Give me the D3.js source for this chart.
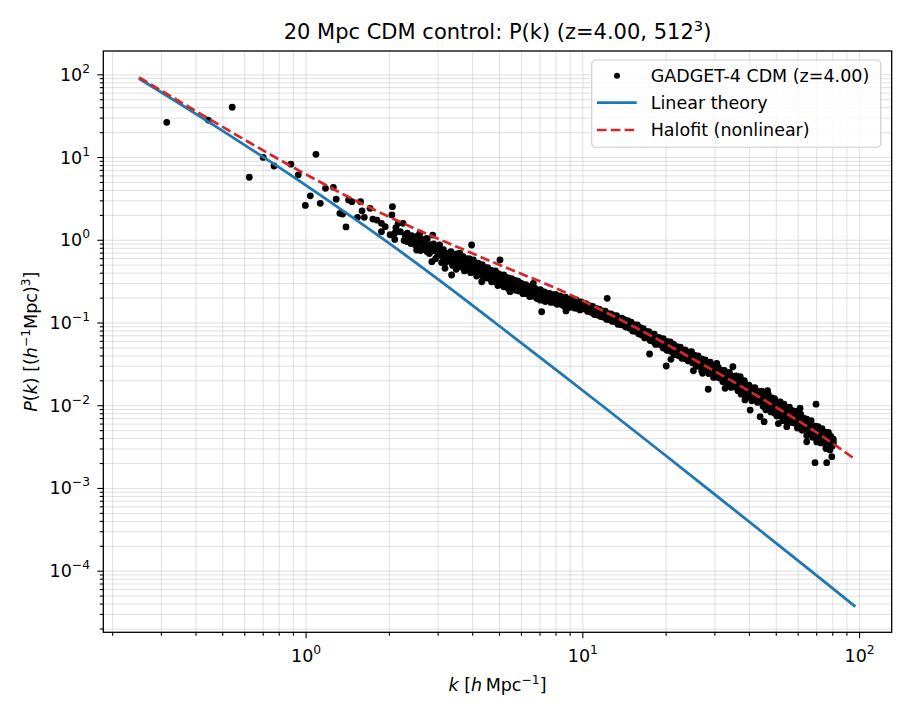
<!DOCTYPE html>
<html>
<head>
<meta charset="utf-8">
<script src="https://cdn.jsdelivr.net/npm/d3@7"></script>
<style>
body { margin: 0; background: #fff; }
text { font-family: "DejaVu Sans", sans-serif; fill: #000; }
</style>
</head>
<body>
<script>
// linear theory P(k)
var kLin = [0.25, 0.35, 0.5, 0.7, 1.0, 1.5, 2.2, 3.5, 5, 8, 12, 20, 30, 50, 70, 97];
var pLin = [89, 44.4, 20.9, 10.1, 4.58, 1.80, 0.723, 0.228, 0.0914, 0.0272, 0.00946, 0.00247, 8.43e-4, 2.17e-4, 8.83e-5, 3.67e-5];

// halofit P(k)
var kHalo = [0.25, 0.35, 0.5, 0.7, 1.0, 1.5, 2.2, 3.5, 5.0, 8.3, 12, 17, 24, 33.3, 50, 70, 97.5];
var pHalo = [92, 47.1, 23.3, 12.1, 6.22, 3.03, 1.64, 0.83, 0.50, 0.247, 0.136, 0.0743, 0.0394, 0.0213, 0.0095, 0.00472, 0.00218];

// GADGET-4 measured spectrum [k, P], low k (individual points)
var gadgetLowK = [
  [0.315, 26.3], [0.445, 28], [0.543, 40], [0.626, 5.7], [0.703, 9.9], [0.769, 7.8], [0.885, 8.2], [0.941, 6.1],
  [0.998, 2.6], [1.04, 3.4], [1.09, 10.8], [1.13, 2.76], [1.18, 4.19], [1.26, 4.3], [1.29, 3.1], [1.33, 2.09],
  [1.36, 2.05], [1.40, 1.43], [1.43, 3.03], [1.47, 2.89], [1.58, 2.89], [1.60, 2.24], [1.54, 1.87], [1.63, 1.87],
  [1.71, 2.40], [1.75, 1.78], [1.81, 1.73], [1.88, 1.58], [1.94, 1.44], [1.88, 1.25], [2.06, 2.51], [2.05, 2.0],
  [2.10, 1.20], [2.10, 1.01], [2.16, 1.58], [2.02, 1.15], [2.12, 1.4], [2.2, 1.25], [2.27, 0.98], [2.33, 1.2],
  [2.4, 0.9], [2.42, 1.12], [2.25, 1.58], [2.29, 1.14], [2.32, 0.95], [2.38, 1.09], [2.45, 0.99], [2.52, 0.75],
  [2.59, 1.20], [2.66, 0.95], [2.74, 0.72], [2.74, 1.04], [2.86, 0.543], [2.88, 1.14], [2.98, 0.82], [3.06, 0.685],
  [3.19, 0.452], [3.24, 0.655], [3.37, 0.375], [3.42, 0.60], [3.61, 0.685], [3.82, 0.52], [3.98, 0.865], [4.04, 0.57],
  [4.27, 0.472], [4.33, 0.311], [4.51, 0.43], [4.77, 0.393], [5.04, 0.57], [5.18, 0.357], [5.48, 0.236], [5.63, 0.327],
  [6.12, 0.271], [6.65, 0.298], [7.13, 0.135], [7.43, 0.205], [8.08, 0.171], [8.73, 0.138], [9.27, 0.155]
];

// GADGET-4 dense band, k = 2.5 .. 10
var gadgetMidK = [
  [2.5,1.06],[2.5,0.85],[2.55,0.89],[2.55,1.12],[2.6,0.74],[2.6,0.95],[2.65,1.01],[2.65,0.81],[2.7,0.77],[2.7,0.92],
  [2.75,1.01],[2.75,0.80],[2.8,0.68],[2.8,0.84],[2.85,0.87],[2.85,0.73],[2.9,0.74],[2.9,0.89],[2.95,0.59],[2.95,0.78],
  [3.0,0.79],[3.0,0.64],[3.05,0.66],[3.05,0.87],[3.1,0.71],[3.1,0.53],[3.15,0.59],[3.15,0.76],[3.2,0.64],[3.2,0.53],
  [3.3,0.69],[3.3,0.55],[3.35,0.57],[3.35,0.72],[3.4,0.49],[3.4,0.62],[3.45,0.67],[3.45,0.54],[3.5,0.57],[3.5,0.44],
  [3.55,0.68],[3.55,0.50],[3.6,0.47],[3.6,0.59],[3.65,0.60],[3.65,0.51],[3.7,0.47],[3.7,0.63],[3.75,0.54],[3.75,0.42],
  [3.8,0.59],[3.8,0.48],[3.85,0.44],[3.85,0.54],[3.9,0.59],[3.9,0.48],[3.95,0.40],[3.95,0.53],[4.0,0.48],[4.0,0.55],
  [4.05,0.41],[4.05,0.50],[4.1,0.52],[4.1,0.43],[4.15,0.365],[4.15,0.465],[4.2,0.52],[4.2,0.40],[4.25,0.43],[4.25,0.49],
  [4.3,0.47],[4.3,0.38],[4.35,0.41],[4.35,0.50],[4.4,0.44],[4.4,0.35],[4.45,0.38],[4.45,0.46],[4.5,0.41],[4.5,0.345],
  [4.55,0.46],[4.55,0.37],[4.6,0.345],[4.6,0.41],[4.65,0.43],[4.65,0.37],[4.7,0.31],[4.7,0.38],[4.75,0.42],[4.75,0.34],
  [4.8,0.36],[4.8,0.40],[4.85,0.31],[4.85,0.42],[4.9,0.375],[4.9,0.33],[4.95,0.28],[4.95,0.39],[5.0,0.346],[5.0,0.31],
  [5.05,0.38],[5.05,0.32],[5.1,0.29],[5.1,0.35],[5.15,0.36],[5.15,0.31],[5.2,0.27],[5.2,0.375],[5.25,0.33],[5.25,0.29],
  [5.3,0.35],[5.3,0.30],[5.35,0.265],[5.35,0.33],[5.4,0.345],[5.4,0.285],[5.45,0.30],[5.45,0.25],[5.5,0.32],[5.5,0.27],
  [5.55,0.28],[5.55,0.34],[5.6,0.30],[5.6,0.255],
  [5.65,0.32],[5.65,0.265],[5.7,0.285],[5.75,0.245],[5.75,0.32],[5.8,0.29],[5.85,0.257],[5.85,0.317],[5.9,0.24],[5.95,0.29],
  [5.95,0.26],[6.0,0.30],[6.05,0.24],[6.05,0.27],[6.1,0.223],[6.15,0.285],[6.15,0.246],[6.2,0.267],[6.25,0.224],[6.25,0.287],
  [6.3,0.244],[6.35,0.269],[6.35,0.224],[6.4,0.247],[6.45,0.206],[6.45,0.274],[6.5,0.254],[6.55,0.223],[6.55,0.209],[6.6,0.262],
  [6.65,0.227],[6.65,0.243],[6.7,0.207],[6.75,0.259],[6.75,0.219],[6.8,0.234],[6.85,0.195],[6.85,0.245],[6.9,0.214],[6.95,0.245],
  [6.95,0.20],[7.0,0.221],[7.05,0.186],[7.05,0.25],[7.1,0.226],[7.15,0.198],[7.15,0.209],[7.2,0.232],[7.25,0.186],[7.25,0.215],
  [7.3,0.234],[7.35,0.196],[7.35,0.179],[7.4,0.216],
  [7.5,0.22],[7.5,0.187],[7.6,0.195],[7.6,0.225],[7.7,0.175],[7.7,0.205],[7.8,0.217],[7.8,0.187],[7.9,0.1755],[7.9,0.205],
  [8.0,0.218],[8.0,0.189],[8.1,0.166],[8.1,0.199],[8.2,0.204],[8.2,0.176],[8.3,0.18],[8.3,0.209],[8.4,0.165],[8.4,0.189],
  [8.5,0.201],[8.5,0.174],[8.6,0.157],[8.6,0.191],[8.7,0.202],[8.7,0.176],[8.8,0.16],[8.8,0.185],[8.9,0.19],[8.9,0.165],
  [9.0,0.152],[9.0,0.177],[9.1,0.192],[9.1,0.166],[9.2,0.157],[9.2,0.181],[9.3,0.182],[9.3,0.158],[9.4,0.149],[9.4,0.169],
  [9.5,0.187],[9.5,0.162],[9.6,0.149],[9.6,0.174],[9.7,0.177],[9.7,0.154],[9.8,0.142],[9.8,0.166],[9.9,0.178],[9.9,0.156],
  [10.0,0.147],[10.0,0.168]
];

// GADGET-4 dense band, k = 10 .. 33
var gadgetHighK = [
  [10.15,0.166],[10.15,0.146],[10.3,0.149],[10.3,0.169],[10.45,0.136],[10.45,0.156],[10.6,0.16],[10.6,0.141],[10.75,0.133],[10.75,0.148],
  [10.9,0.157],[10.9,0.137],[11.05,0.125],[11.05,0.146],[11.2,0.148],[11.2,0.13],[11.35,0.123],[11.35,0.135],[11.5,0.145],[11.5,0.126],
  [11.65,0.118],[11.65,0.136],[11.8,0.138],[11.8,0.124],[11.95,0.116],[11.95,0.129],[12.1,0.137],[12.1,0.118],[12.25,0.109],[12.25,0.126],
  [12.4,0.128],[12.4,0.116],[12.55,0.108],[12.55,0.12],[12.7,0.127],[12.7,0.111],[12.85,0.103],[12.85,0.12],[13.0,0.121],[13.0,0.11],
  [13.15,0.103],[13.15,0.114],[13.3,0.121],[13.3,0.104],[13.45,0.095],[13.45,0.111],[13.6,0.113],[13.6,0.102],[13.75,0.0945],[13.75,0.106],
  [13.9,0.113],[13.9,0.097],[14.05,0.093],[14.05,0.106],[14.2,0.108],[14.2,0.0966],[14.35,0.0883],[14.35,0.101],
  [14.6,0.105],[14.6,0.09],[14.8,0.0855],[14.8,0.098],[15.0,0.101],[15.0,0.0875],[15.2,0.079],[15.2,0.092],[15.4,0.094],[15.4,0.0843],
  [15.6,0.078],[15.6,0.089],[15.8,0.0937],[15.8,0.0812],[16.0,0.0728],[16.0,0.0826],[16.2,0.0864],[16.2,0.0752],[16.4,0.0704],[16.4,0.0821],
  [16.6,0.0842],[16.6,0.0734],[16.8,0.0651],[16.8,0.0763],[17.0,0.0783],[17.0,0.0681],[17.2,0.0652],[17.2,0.0745],[17.4,0.0778],[17.4,0.068],
  [17.6,0.0605],[17.6,0.0687],[17.8,0.0727],[17.8,0.0639],[18.0,0.0593],[18.0,0.0685],[18.2,0.0724],[18.2,0.062],[18.4,0.0544],[18.4,0.0646],
  [18.6,0.0664],[18.6,0.0584],[18.8,0.0548],[18.8,0.064],[19.0,0.0656],[19.0,0.0578],
  [19.3,0.0532],[19.3,0.0624],[19.6,0.064],[19.6,0.0492],[19.9,0.0534],[19.9,0.0573],[20.2,0.0461],[20.2,0.059],[20.5,0.0534],[20.5,0.0487],
  [20.8,0.0583],[20.8,0.045],[21.1,0.0474],[21.1,0.0529],[21.4,0.0409],[21.4,0.0545],[21.7,0.0476],[21.7,0.0428],[22.0,0.0512],[22.0,0.0442],
  [22.3,0.0396],[22.3,0.0473],[22.6,0.0503],[22.6,0.0414],[22.9,0.0426],[22.9,0.037],[23.2,0.046],[23.2,0.0392],[23.5,0.0367],[23.5,0.0467],
  [23.8,0.0416],[23.8,0.0388],[24.1,0.0344],[24.1,0.044],[24.4,0.0412],[24.4,0.0365],[24.7,0.0346],[24.7,0.0438],[25.0,0.0375],[25.0,0.0326],
  [25.4,0.0402],[25.4,0.0329],[25.8,0.0297],[25.8,0.0372],[26.2,0.0396],[26.2,0.0327],[26.6,0.0294],[26.6,0.0341],[27.0,0.0364],[27.0,0.026],
  [27.4,0.0307],[27.4,0.0341],[27.8,0.0265],[27.8,0.0354],[28.2,0.0312],[28.2,0.0276],[28.6,0.0242],[28.6,0.0321],[29.0,0.0331],[29.0,0.0271],
  [29.4,0.0247],[29.4,0.0286],[29.8,0.0298],[29.8,0.0217],[30.2,0.0251],[30.2,0.0296],[30.6,0.0219],[30.6,0.0268],[31.0,0.0286],[31.0,0.0231],
  [31.4,0.0213],[31.4,0.026],[31.8,0.0264],[31.8,0.023],[32.2,0.0192],[32.2,0.0241],[32.6,0.0263],[32.6,0.0213],[33.0,0.0197],[33.0,0.024]
];

// GADGET-4 dense band, k = 33 .. 81 (Nyquist end)
var gadgetTopK = [
  [33.5,0.0234],[33.5,0.0184],[34.0,0.02],[34.0,0.0249],[34.5,0.0164],[34.5,0.0213],[35.0,0.0224],[35.0,0.018],[35.5,0.0167],[35.5,0.0194],
  [36.0,0.0227],[36.0,0.0178],[36.5,0.015],[36.5,0.0196],[37.0,0.0196],[37.0,0.0173],[37.5,0.0136],[37.5,0.02],[38.0,0.0174],[38.0,0.0152],
  [38.5,0.014],[38.5,0.0198],[39.0,0.0176],[39.0,0.0152],[39.5,0.0125],[39.5,0.0159],[40.0,0.0175],[40.0,0.0134],[40.5,0.0137],[40.5,0.0158],
  [41.0,0.0113],[41.0,0.0162],[41.5,0.0142],[41.5,0.0128],[42.0,0.0163],[42.0,0.0116],[42.5,0.0128],[42.5,0.0146],[43.0,0.0108],[43.0,0.0148],
  [43.5,0.0134],[43.5,0.0116],
  [44.0,0.0112],[44.0,0.0142],[44.5,0.0148],[44.5,0.012],[45.0,0.0097],[45.0,0.0127],[45.5,0.011],[45.5,0.0136],[46.0,0.0088],[46.0,0.0116],
  [46.5,0.0125],[46.5,0.0102],[47.0,0.0094],[47.0,0.0135],[47.5,0.0112],[47.5,0.01],[48.0,0.0083],[48.0,0.0119],[48.5,0.0101],[48.5,0.0123],
  [49.0,0.0088],[49.0,0.0109],[49.5,0.012],[49.5,0.008],[50.0,0.0092],[50.0,0.0102],[50.5,0.0074],[50.5,0.0108],[51.0,0.0094],[51.0,0.0083],
  [51.5,0.0109],[51.5,0.0088],[52.0,0.0074],[52.0,0.0096],[52.5,0.0099],[52.5,0.008],[53.0,0.0065],[53.0,0.0089],[53.5,0.0103],[53.5,0.008],
  [54.0,0.0072],[54.0,0.0091],[54.5,0.0082],[54.5,0.0066],[55.0,0.0093],[55.0,0.0075],[55.5,0.0062],[55.5,0.0084],[56.0,0.0095],[56.0,0.0075],
  [56.5,0.0067],[56.5,0.0084],[57.0,0.0077],[57.0,0.0062],[57.5,0.0086],[57.5,0.0067],
  [58.3,0.0061],[58.3,0.0081],[59.1,0.0084],[59.1,0.0067],[59.9,0.0053],[59.9,0.0071],[60.7,0.0073],[60.7,0.0059],[61.5,0.006],[61.5,0.0078],
  [62.3,0.005],[62.3,0.0064],[63.1,0.007],[63.1,0.0053],[63.9,0.0057],[63.9,0.0064],[64.7,0.0043],[64.7,0.0068],[65.5,0.0059],[65.5,0.005],
  [66.3,0.0046],[66.3,0.0061],[67.1,0.0065],[67.1,0.0051],[67.9,0.0041],[67.9,0.0053],[68.7,0.0055],[68.7,0.0044],[69.5,0.0046],[69.5,0.0056],
  [70.3,0.0036],[70.3,0.005],[71.1,0.0055],[71.1,0.0042],[71.9,0.0039],[71.9,0.0049],[72.7,0.0045],[72.7,0.0035],[73.5,0.0052],[73.5,0.004],
  [74.3,0.0035],[74.3,0.0047],[75.1,0.0044],[75.1,0.0037],[75.9,0.003],[75.9,0.0047],[76.7,0.0039],[76.7,0.0043],[77.5,0.0033],[77.5,0.0047],
  [78.3,0.0038],[78.3,0.003],[79.1,0.0042],[79.1,0.0033],[79.9,0.0032],[79.9,0.0037],[80.7,0.0039],[80.7,0.0034]
];

// stray points off the band at high k
var gadgetOutliers = [
  [12.3, 0.196], [17.5, 0.0416], [20.1, 0.0298], [20.9, 0.0359], [24.8, 0.0443], [25.2, 0.0261], [27.2, 0.0243], [28.5, 0.0156],
  [30.6, 0.0321], [35.0, 0.0292], [32.8, 0.016], [37.2, 0.0221], [38.7, 0.0116], [40.4, 0.00875], [41.3, 0.016], [43.9, 0.00726],
  [46.7, 0.015], [45.4, 0.00632], [47.7, 0.0121], [51.9, 0.011], [51.1, 0.006], [54.8, 0.0055], [61.2, 0.0092], [65.6, 0.00577],
  [69.9, 0.0103], [64.7, 0.00362], [69.3, 0.00202], [75.4, 0.00421], [76.4, 0.00202], [80.7, 0.00362], [79.7, 0.00239], [78.5, 0.00288]
];

// axis ticks
var xMajor = [1, 10, 100];
var xMajorExp = ["0", "1", "2"];
var yMajor = [1e-4, 1e-3, 1e-2, 1e-1, 1, 10, 100];
var yMajorExp = ["\u22124", "\u22123", "\u22122", "\u22121", "0", "1", "2"];

var legendItems = ["GADGET-4 CDM (z=4.00)", "Linear theory", "Halofit (nonlinear)"];

// set the dimensions and margins of the graph
var margin = {top: 51, right: 18.3, bottom: 82.7, left: 103.3},
    width = 910 - margin.left - margin.right,
    height = 715 - margin.top - margin.bottom;

var x = d3.scaleLog().domain([0.1858, 131.2]).range([0, width]);
var y = d3.scaleLog().domain([1.8e-5, 191.4]).range([height, 0]);

// minor tick positions 2..9 in every decade inside the domain
function minorTicks(scale) {
  var d = scale.domain(), out = [];
  for (var e = -6; e <= 3; e++) {
    for (var m = 2; m <= 9; m++) {
      var v = m * Math.pow(10, e);
      if (v >= d[0] && v <= d[1]) out.push(v);
    }
  }
  return out;
}
var xMinor = minorTicks(x), yMinor = minorTicks(y);

var svg = d3.select("body").append("svg")
  .attr("width", 910)
  .attr("height", 715)
  .append("g")
  .attr("transform", "translate(" + margin.left + "," + margin.top + ")");

// grid, major and minor
function gridStyle(g) {
  g.select(".domain").remove();
  g.selectAll("line").attr("stroke", "#b0b0b0").attr("stroke-opacity", 0.42).attr("stroke-width", 0.9);
}
svg.append("g")
  .attr("transform", "translate(0," + height + ")")
  .call(d3.axisBottom(x).tickValues(xMajor.concat(xMinor)).tickSize(-height).tickFormat(""))
  .call(gridStyle);
svg.append("g")
  .call(d3.axisLeft(y).tickValues(yMajor.concat(yMinor)).tickSize(-width).tickFormat(""))
  .call(gridStyle);

// scatter of the simulation
var gadgetPts = gadgetLowK.concat(gadgetMidK, gadgetHighK, gadgetTopK, gadgetOutliers);
svg.selectAll(".pt")
  .data(gadgetPts)
  .enter().append("circle")
  .attr("class", "pt")
  .attr("cx", function(d) { return x(d[0]); })
  .attr("cy", function(d) { return y(d[1]); })
  .attr("r", 3.4)
  .attr("fill", "#000");

var line = d3.line()
  .x(function(d) { return x(d[0]); })
  .y(function(d) { return y(d[1]); })
  .curve(d3.curveMonotoneX);

svg.append("path")
  .datum(d3.zip(kLin, pLin))
  .attr("d", line)
  .attr("fill", "none")
  .attr("stroke", "#1f77b4")
  .attr("stroke-width", 2.8);

svg.append("path")
  .datum(d3.zip(kHalo, pHalo))
  .attr("d", line)
  .attr("fill", "none")
  .attr("stroke", "#d62728")
  .attr("stroke-width", 2.7)
  .attr("stroke-dasharray", "9.6,4.2");

// frame
svg.append("rect")
  .attr("width", width)
  .attr("height", height)
  .attr("fill", "none")
  .attr("stroke", "#000")
  .attr("stroke-width", 1.3);

// tick marks
function tickStyle(g) {
  g.select(".domain").remove();
  g.selectAll("line").attr("stroke", "#000").attr("stroke-width", 1.1);
}
svg.append("g")
  .attr("transform", "translate(0," + height + ")")
  .call(d3.axisBottom(x).tickValues(xMinor).tickSize(3.5).tickFormat(""))
  .call(tickStyle);
svg.append("g")
  .call(d3.axisLeft(y).tickValues(yMinor).tickSize(3.5).tickFormat(""))
  .call(tickStyle);

var xAxis = svg.append("g")
  .attr("transform", "translate(0," + height + ")")
  .call(d3.axisBottom(x).tickValues(xMajor).tickSize(6))
  .call(tickStyle);
var yAxis = svg.append("g")
  .call(d3.axisLeft(y).tickValues(yMajor).tickSize(6))
  .call(tickStyle);

// power-of-ten labels with a raised exponent
function powerLabel(sel, exps) {
  sel.each(function(d, i) {
    var t = d3.select(this).text(null)
      .attr("font-family", "DejaVu Sans")
      .attr("font-size", 17.5)
      .attr("fill", "#000");
    t.append("tspan").text("10");
    t.append("tspan").attr("dy", -8).attr("font-size", 12.3).text(exps[i]);
  });
}
xAxis.selectAll("text").attr("y", 30.2).attr("dy", null).call(powerLabel, xMajorExp);
yAxis.selectAll("text").attr("x", -13.3).attr("y", 6).attr("dy", null).call(powerLabel, yMajorExp);

// x label: k [h Mpc^-1]
var xl = svg.append("text")
  .attr("x", width / 2)
  .attr("y", height + 58.7)
  .attr("text-anchor", "middle")
  .attr("font-size", 17.5);
xl.append("tspan").attr("font-style", "italic").text("k");
xl.append("tspan").text(" [");
xl.append("tspan").attr("font-style", "italic").text("h");
xl.append("tspan").text("\u2009Mpc");
xl.append("tspan").attr("dy", -7).attr("font-size", 12.3).text("\u22121");
xl.append("tspan").attr("dy", 7).text("]");

// y label: P(k) [(h^-1 Mpc)^3]
var yl = svg.append("text")
  .attr("transform", "translate(" + (37 - margin.left) + "," + (height / 2) + ") rotate(-90)")
  .attr("text-anchor", "middle")
  .attr("font-size", 17.5);
yl.append("tspan").attr("font-style", "italic").text("P");
yl.append("tspan").text("(");
yl.append("tspan").attr("font-style", "italic").text("k");
yl.append("tspan").text(") [(");
yl.append("tspan").attr("font-style", "italic").text("h");
yl.append("tspan").attr("dy", -7).attr("font-size", 12.3).text("\u22121");
yl.append("tspan").attr("dy", 7).text("Mpc)");
yl.append("tspan").attr("dy", -7).attr("font-size", 12.3).text("3");
yl.append("tspan").attr("dy", 7).text("]");

// title
var title = svg.append("text")
  .attr("x", width / 2)
  .attr("y", -11.7)
  .attr("text-anchor", "middle")
  .attr("font-size", 21);
title.append("tspan").text("20 Mpc CDM control: P(k) (z=4.00, 512");
title.append("tspan").attr("dy", -8.5).attr("font-size", 14.7).text("3");
title.append("tspan").attr("dy", 8.5).text(")");

// legend
var leg = svg.append("g")
  .attr("transform", "translate(" + (591.7 - margin.left) + "," + (60 - margin.top) + ")");
leg.append("rect")
  .attr("width", 289)
  .attr("height", 87.3)
  .attr("rx", 4)
  .attr("fill", "#fff")
  .attr("fill-opacity", 0.8)
  .attr("stroke", "#cccccc")
  .attr("stroke-width", 1.1);

var rowY = [15.7, 42.7, 70];
leg.append("circle").attr("cx", 25.3).attr("cy", rowY[0]).attr("r", 3).attr("fill", "#000");
leg.append("line").attr("x1", 5.3).attr("x2", 45).attr("y1", rowY[1]).attr("y2", rowY[1])
  .attr("stroke", "#1f77b4").attr("stroke-width", 2.8);
leg.append("line").attr("x1", 5.3).attr("x2", 45).attr("y1", rowY[2]).attr("y2", rowY[2])
  .attr("stroke", "#d62728").attr("stroke-width", 2.7).attr("stroke-dasharray", "9.6,4.2");

leg.selectAll(".lt")
  .data(legendItems)
  .enter().append("text")
  .attr("class", "lt")
  .attr("x", 59)
  .attr("y", function(d, i) { return rowY[i] + 6.2; })
  .attr("font-size", 17.5)
  .text(function(d) { return d; });
</script>
</body>
</html>
